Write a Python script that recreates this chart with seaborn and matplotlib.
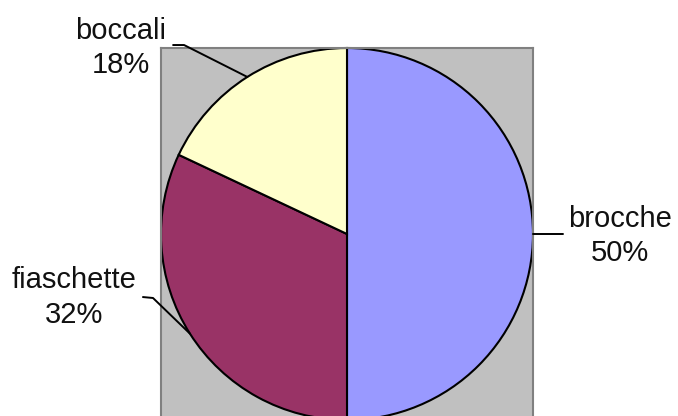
import numpy as np
import matplotlib
matplotlib.use("Agg")
import matplotlib.pyplot as plt
import seaborn as sns

# Share of containers
categories = ["brocche", "fiaschette", "boccali"]
shares = [50, 32, 18]
colors = sns.color_palette(["#9999FF", "#993366", "#FFFFCC"])

sns.set_theme(style="white")
plt.rcParams["font.family"] = ["Liberation Sans", "DejaVu Sans"]

W, H = 678, 416
fig = plt.figure(figsize=(W / 100, H / 100), dpi=100)
fig.patch.set_facecolor("white")

# Plot area: grey square holding the pie (radius 186 px, centre at 347, 234)
cx, cy, r = 347, 234, 186
ax = fig.add_axes([(cx - r) / W, (H - cy - r) / H, 2 * r / W, 2 * r / H])

wedges, _ = ax.pie(
    shares, colors=colors, startangle=90, counterclock=False, radius=1.0,
    frame=True,
    wedgeprops=dict(edgecolor="black", linewidth=1.5),
)
ax.set_frame_on(True)
ax.set_facecolor("#C0C0C0")
ax.set_xlim(-1, 1)
ax.set_ylim(-1, 1)
ax.set_aspect("auto")
ax.set_xticks([])
ax.set_yticks([])
for s in ax.spines.values():
    s.set_visible(True)
    s.set_color("#808080")
    s.set_linewidth(1.5)
for w in wedges:
    w.set_clip_on(False)

# Label anchors (data units) and leader elbow offsets
label_pos = {
    "brocche": (1.468, -0.010),
    "fiaschette": (-1.465, -0.342),
    "boccali": (-1.215, 1.000),
}
elbow = {
    "brocche": [(1.161, 0.0)],
    "fiaschette": [(-1.043, -0.344), (-1.097, -0.339)],
    "boccali": [(-0.876, 1.016), (-0.935, 1.016)],
}

for w, name, val in zip(wedges, categories, shares):
    mid = np.deg2rad((w.theta1 + w.theta2) / 2)
    ex, ey = np.cos(mid), np.sin(mid)
    pts = [(ex, ey)] + elbow[name]
    xs, ys = zip(*pts)
    ax.plot(xs, ys, color="black", linewidth=1.4, clip_on=False, zorder=5)
    lx, ly = label_pos[name]
    ax.text(lx, ly, f"{name}\n{val}%", ha="center", va="center",
            multialignment="center", fontsize=21, color="#111111",
            linespacing=1.3, clip_on=False)

fig.savefig("out.png", dpi=100)
